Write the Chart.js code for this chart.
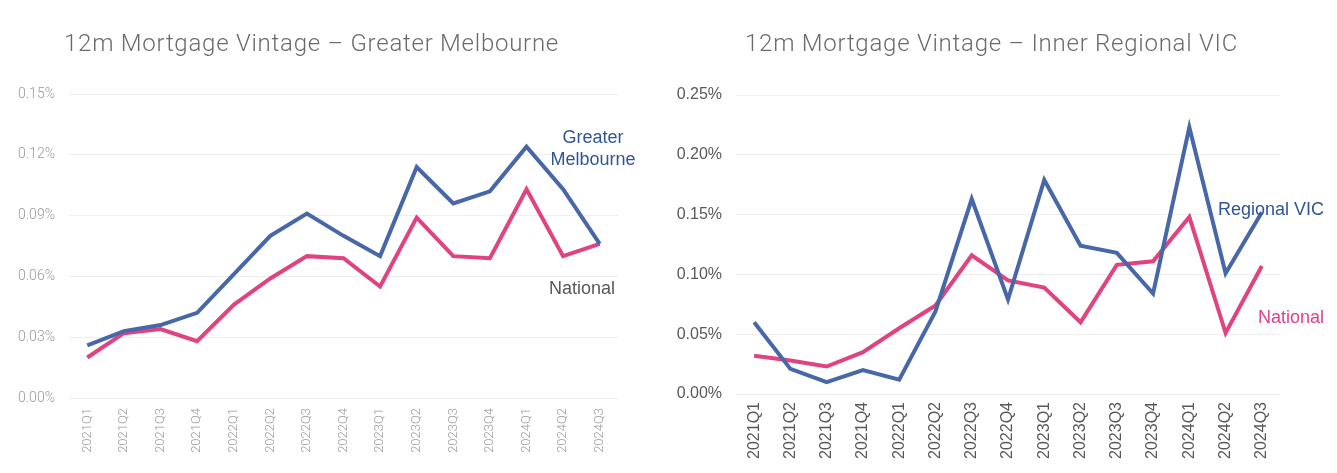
<!DOCTYPE html>
<html>
<head>
<meta charset="utf-8">
<script src="https://cdn.jsdelivr.net/npm/chart.js@4.4.1/dist/chart.umd.min.js"></script>
<style>
  html, body { margin:0; padding:0; background:#fff; width:1337px; height:473px; overflow:hidden; }
  .box { position:absolute; top:0; height:473px; }
  .title { position:absolute; top:28px; font-family:Roboto, "DejaVu Sans", sans-serif; font-weight:300; font-size:24px; color:#6b6b6b; letter-spacing:0.75px; white-space:nowrap; line-height:30px; }
  .ann { position:absolute; font-family:"Liberation Sans", Arial, sans-serif; font-size:18px; white-space:nowrap; line-height:22px; }
</style>
</head>
<body>
<div class="box" style="left:0;width:668px;"><canvas id="c1" width="668" height="473"></canvas></div>
<div class="box" style="left:668px;width:669px;"><canvas id="c2" width="669" height="473"></canvas></div>
<div class="title" style="left:64px;">12m Mortgage Vintage – Greater Melbourne</div>
<div class="title" style="left:745px;">12m Mortgage Vintage – Inner Regional VIC</div>
<div class="ann" style="left:543px;width:100px;top:126px;text-align:center;color:#2F5597;">Greater<br>Melbourne</div>
<div class="ann" style="left:549px;top:277px;color:#595959;">National</div>
<div class="ann" style="left:1218px;top:198px;color:#2F5597;">Regional VIC</div>
<div class="ann" style="left:1258px;top:306px;color:#E0408A;">National</div>
<script>
const quarters = ['2021Q1','2021Q2','2021Q3','2021Q4','2022Q1','2022Q2','2022Q3','2022Q4','2023Q1','2023Q2','2023Q3','2023Q4','2024Q1','2024Q2','2024Q3'];

// Left chart: Greater Melbourne (values in %)
const melbourne = [0.026,0.033,0.036,0.042,0.061,0.080,0.091,0.080,0.070,0.114,0.096,0.102,0.124,0.103,0.076];
const nationalLeft = [0.020,0.032,0.034,0.028,0.046,0.059,0.070,0.069,0.055,0.089,0.070,0.069,0.103,0.070,0.076];

// Right chart: Inner Regional VIC (values in %)
const regionalVic = [0.060,0.021,0.010,0.020,0.012,0.069,0.163,0.079,0.179,0.124,0.118,0.084,0.223,0.101,0.152];
const nationalRight = [0.032,0.028,0.023,0.035,0.055,0.074,0.116,0.095,0.089,0.060,0.108,0.111,0.148,0.051,0.107];

const leftTicks = { min:0, max:0.15, step:0.03 };
const rightTicks = { min:0, max:0.25, step:0.05 };

const BLUE = '#4767A9';
const PINK = '#E0437F';

function makeChart(id, series, ticksCfg, cfg) {
  const ctx = document.getElementById(id).getContext('2d');
  return new Chart(ctx, {
    type: 'line',
    data: {
      labels: quarters,
      datasets: series.map(s => ({
        data: s.data, borderColor: s.color, backgroundColor: s.color,
        borderWidth: 4, pointRadius: 0, tension: 0, fill: false
      }))
    },
    options: {
      responsive: false, animation: false, devicePixelRatio: 1,
      layout: { padding: { left: 0, right: cfg.padRight, top: cfg.top, bottom: 0 } },
      plugins: { legend: { display: false }, tooltip: { enabled: false } },
      scales: {
        x: {
          offset: true,
          grid: { display: false, drawTicks: false },
          border: { display: false },
          ticks: { autoSkip: false, minRotation: 90, maxRotation: 90, padding: cfg.xPad,
                   color: cfg.xColor, font: cfg.xFont },
          afterFit: s => { s.height = cfg.xHeight; }
        },
        y: {
          min: ticksCfg.min, max: ticksCfg.max,
          grid: { color: '#eeeeee', lineWidth: 1, drawTicks: false },
          border: { display: false },
          ticks: { stepSize: ticksCfg.step, padding: 14, color: cfg.yColor, font: cfg.yFont,
                   callback: v => v.toFixed(2) + '%' },
          afterFit: s => { s.width = cfg.yWidth; }
        }
      }
    }
  });
}

makeChart('c1', [
  { data: melbourne, color: BLUE },
  { data: nationalLeft, color: PINK }
], leftTicks, {
  padRight: 50, top: 94, xHeight: 75, yWidth: 69, xPad: 10,
  xColor: '#9a9a9a', xFont: { family: 'Roboto', weight: 300, size: 13 },
  yColor: '#9a9a9a', yFont: { family: 'Roboto', weight: 300, size: 14 }
});

makeChart('c2', [
  { data: regionalVic, color: BLUE },
  { data: nationalRight, color: PINK }
], rightTicks, {
  padRight: 57, top: 95, xHeight: 79, yWidth: 68, xPad: 8,
  xColor: '#595959', xFont: { family: 'Liberation Sans', size: 16 },
  yColor: '#595959', yFont: { family: 'Liberation Sans', size: 16 }
});
</script>
</body>
</html>
